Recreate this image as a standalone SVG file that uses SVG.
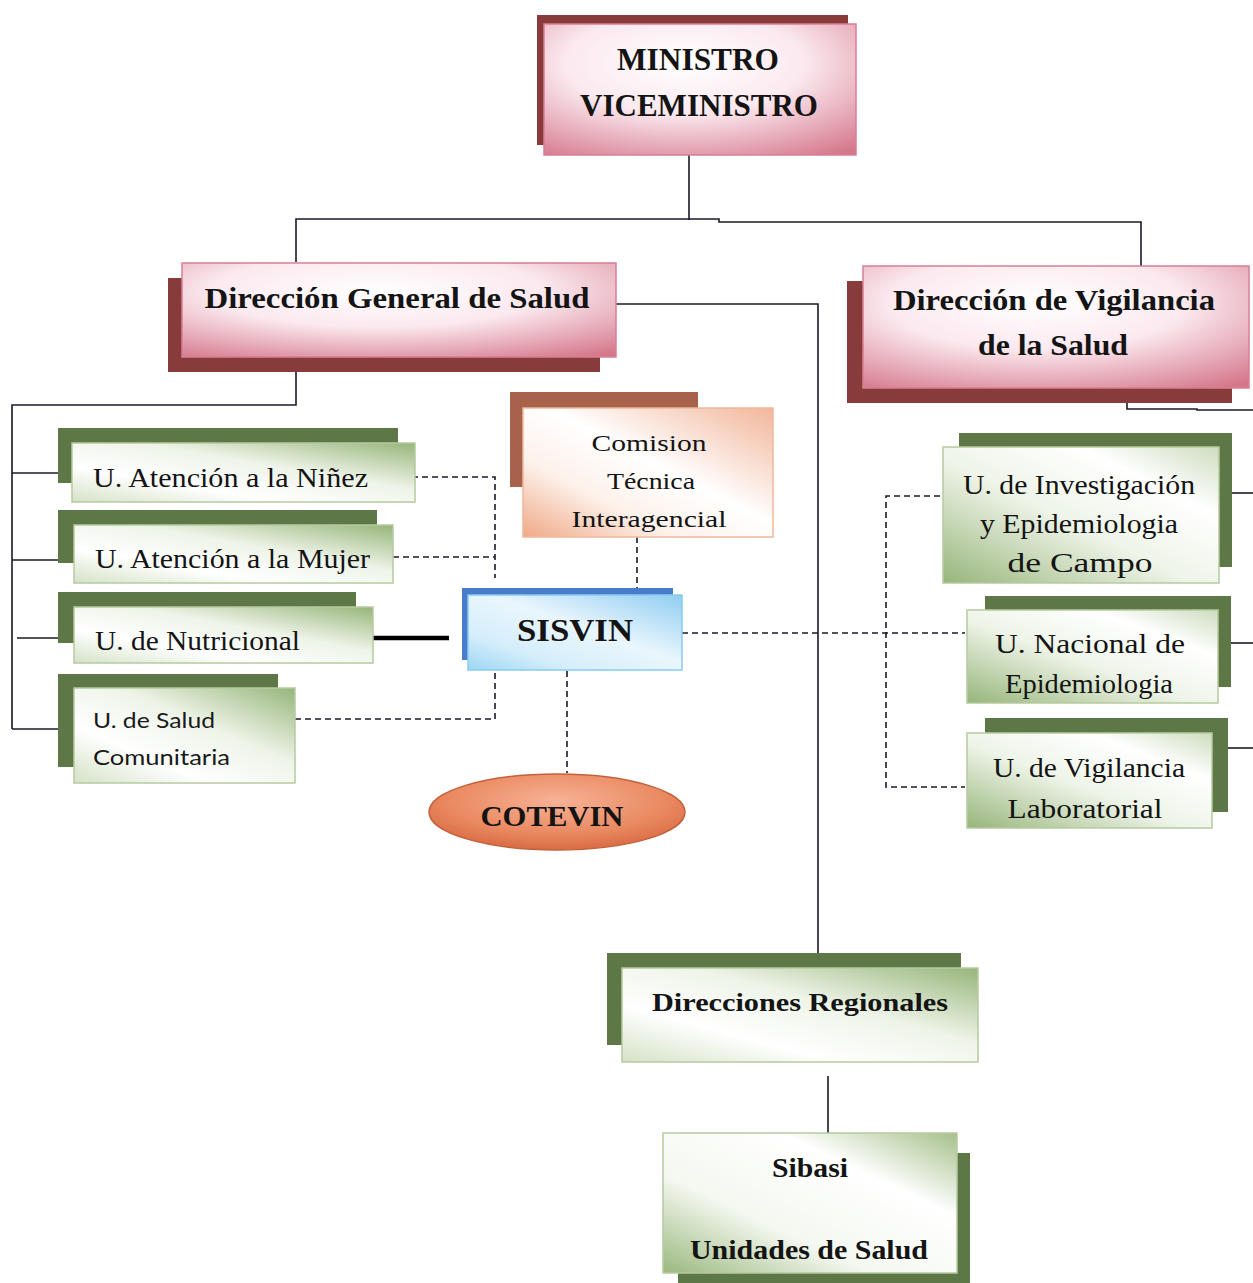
<svg xmlns="http://www.w3.org/2000/svg" width="1253" height="1283" viewBox="0 0 1253 1283">
<style>
.bg{fill:#ffffff}
.t{font-family:"Liberation Serif","DejaVu Serif",serif;fill:#141414}
.b{font-weight:bold}
.sans{font-family:"Lato","Open Sans","Liberation Sans",sans-serif;fill:#1a1a1a}
.line{stroke:#1a1a2a;stroke-width:1.6;fill:none}
.dash{stroke:#1a1a2a;stroke-width:1.6;fill:none;stroke-dasharray:6 4}
.thick{stroke:#000;stroke-width:4.5;fill:none}
.mshadow{fill:#873b3b}
.gshadow{fill:#5d7846}
.pink{fill:url(#gPink);stroke:#d97f92;stroke-width:1.5}
.green{stroke:#b6caa0;stroke-width:1.5}
</style>
<defs>
<radialGradient id="gPink" cx="0.45" cy="0.3" r="0.85">
<stop offset="0" stop-color="#ffffff"/>
<stop offset="0.45" stop-color="#fbe9ef"/>
<stop offset="1" stop-color="#d5778b"/>
</radialGradient>
<linearGradient id="gGreenL" x1="1" y1="0" x2="0" y2="1">
<stop offset="0" stop-color="#97b57a"/>
<stop offset="0.4" stop-color="#eef4e8"/>
<stop offset="0.7" stop-color="#ffffff"/>
<stop offset="1" stop-color="#d4e2c6"/>
</linearGradient>
<linearGradient id="gGreenR" x1="0" y1="1" x2="1" y2="0">
<stop offset="0" stop-color="#97b57a"/>
<stop offset="0.45" stop-color="#eef4e8"/>
<stop offset="0.75" stop-color="#ffffff"/>
<stop offset="1" stop-color="#cddcbe"/>
</linearGradient>
<linearGradient id="gGreenS" x1="0" y1="1" x2="1" y2="0">
<stop offset="0" stop-color="#9ab87e"/>
<stop offset="0.35" stop-color="#f4f8f0"/>
<stop offset="0.7" stop-color="#ffffff"/>
<stop offset="1" stop-color="#a5c08a"/>
</linearGradient>
<linearGradient id="gPeach" x1="1" y1="0" x2="0" y2="1">
<stop offset="0" stop-color="#f2b69a"/>
<stop offset="0.45" stop-color="#ffffff"/>
<stop offset="0.7" stop-color="#fdf1ea"/>
<stop offset="1" stop-color="#efa886"/>
</linearGradient>
<linearGradient id="gBlue" x1="1" y1="0" x2="0" y2="1">
<stop offset="0" stop-color="#8fcdf2"/>
<stop offset="0.45" stop-color="#eaf6fd"/>
<stop offset="0.75" stop-color="#d5eefb"/>
<stop offset="1" stop-color="#9dd6f5"/>
</linearGradient>
<radialGradient id="gOrange" cx="0.5" cy="0.35" r="0.7">
<stop offset="0" stop-color="#f7b296"/>
<stop offset="0.6" stop-color="#ea8a62"/>
<stop offset="1" stop-color="#d5653d"/>
</radialGradient>
</defs>
<rect class="bg" x="0" y="0" width="1253" height="1283"/>

<g id="connectors">
<!-- ministro to direcciones -->
<path class="line" d="M689,155 V220"/>
<path class="line" d="M296,262 V219 H719 V222 H1141 V268"/>
<!-- DG to regionales -->
<path class="line" d="M616,304 H818 V955"/>
<!-- DG to left units -->
<path class="line" d="M296,357 V405 H12 V729"/>
<path class="line" d="M12,473 H72"/>
<path class="line" d="M12,560 H74"/>
<path class="line" d="M17,638 H74"/>
<path class="line" d="M12,729 H74"/>
<!-- DV to right units -->
<path class="line" d="M1127,375 V409 H1197 V410 H1253"/>
<path class="line" d="M1228,493 H1253"/>
<path class="line" d="M1228,643 H1253"/>
<path class="line" d="M1228,748 H1253"/>
<!-- dashed to SISVIN -->
<path class="dash" d="M392,477 H495 V578"/>
<path class="dash" d="M383,557 H495"/>
<path class="dash" d="M295,719 H495 V670"/>
<path class="thick" d="M372,638 H449"/>
<path class="dash" d="M637,537 V598"/>
<path class="dash" d="M567,671 V773"/>
<path class="dash" d="M682,633 H965"/>
<path class="dash" d="M970,496 H886 V787 H965"/>
<!-- regionales to sibasi -->
<path class="line" d="M828,1076 V1135"/>
</g>

<g id="ministro">
<rect class="mshadow" x="537" y="15" width="311" height="130"/>
<rect class="pink" x="544" y="24" width="312" height="131"/>
<text class="t b" x="698" y="70" font-size="32" text-anchor="middle" textLength="162" lengthAdjust="spacingAndGlyphs">MINISTRO</text>
<text class="t b" x="699" y="116" font-size="32" text-anchor="middle" textLength="238" lengthAdjust="spacingAndGlyphs">VICEMINISTRO</text>
</g>

<g id="dir-general">
<rect class="mshadow" x="168" y="278" width="432" height="94"/>
<rect class="pink" x="182" y="263" width="434" height="94"/>
<text class="t b" x="397" y="308" font-size="30" text-anchor="middle" textLength="385" lengthAdjust="spacingAndGlyphs">Dirección General de Salud</text>
</g>

<g id="dir-vigilancia">
<rect class="mshadow" x="847" y="281" width="385" height="122"/>
<rect class="pink" x="863" y="266" width="386" height="122"/>
<text class="t b" x="1054" y="310" font-size="30" text-anchor="middle" textLength="322" lengthAdjust="spacingAndGlyphs">Dirección de Vigilancia</text>
<text class="t b" x="1053" y="355" font-size="30" text-anchor="middle" textLength="150" lengthAdjust="spacingAndGlyphs">de la Salud</text>
</g>

<g id="u-ninez">
<rect class="gshadow" x="58" y="428" width="340" height="55"/>
<rect class="green" fill="url(#gGreenL)" x="72" y="443" width="343" height="59"/>
<text class="t" x="93" y="487" font-size="27" textLength="275" lengthAdjust="spacingAndGlyphs">U. Atención a la Niñez</text>
</g>

<g id="u-mujer">
<rect class="gshadow" x="58" y="510" width="319" height="53"/>
<rect class="green" fill="url(#gGreenL)" x="74" y="525" width="319" height="58"/>
<text class="t" x="95" y="568" font-size="27" textLength="275" lengthAdjust="spacingAndGlyphs">U. Atención a la Mujer</text>
</g>

<g id="u-nutricional">
<rect class="gshadow" x="58" y="592" width="298" height="51"/>
<rect class="green" fill="url(#gGreenL)" x="74" y="607" width="299" height="56"/>
<text class="t" x="95" y="650" font-size="27" textLength="205" lengthAdjust="spacingAndGlyphs">U. de Nutricional</text>
</g>

<g id="u-salud-comunitaria">
<rect class="gshadow" x="58" y="674" width="220" height="93"/>
<rect class="green" fill="url(#gGreenL)" x="74" y="688" width="221" height="95"/>
<text class="sans" x="93" y="728" font-size="22" textLength="122" lengthAdjust="spacingAndGlyphs">U. de Salud</text>
<text class="sans" x="93" y="765" font-size="22" textLength="137" lengthAdjust="spacingAndGlyphs">Comunitaria</text>
</g>

<g id="comision">
<rect fill="#a8614a" x="510" y="392" width="188" height="95"/>
<rect fill="url(#gPeach)" stroke="#f0b89c" stroke-width="1.5" x="523" y="408" width="250" height="129"/>
<text class="t" x="649" y="451" font-size="24" text-anchor="middle" textLength="115" lengthAdjust="spacingAndGlyphs">Comision</text>
<text class="t" x="651" y="489" font-size="24" text-anchor="middle" textLength="88" lengthAdjust="spacingAndGlyphs">Técnica</text>
<text class="t" x="649" y="527" font-size="24" text-anchor="middle" textLength="155" lengthAdjust="spacingAndGlyphs">Interagencial</text>
</g>

<g id="sisvin">
<rect fill="#4a7ccc" x="462" y="588" width="211" height="72"/>
<rect fill="url(#gBlue)" stroke="#86ccf1" stroke-width="1.5" x="468" y="595" width="214" height="75"/>
<text class="t b" x="575" y="641" font-size="32" text-anchor="middle" textLength="116" lengthAdjust="spacingAndGlyphs">SISVIN</text>
</g>

<g id="cotevin">
<ellipse fill="url(#gOrange)" stroke="#c4603a" stroke-width="1.5" cx="557" cy="812" rx="128" ry="38"/>
<text class="t b" x="552" y="826" font-size="30" text-anchor="middle" textLength="143" lengthAdjust="spacingAndGlyphs">COTEVIN</text>
</g>

<g id="u-investigacion">
<rect class="gshadow" x="959" y="433" width="273" height="134"/>
<rect class="green" fill="url(#gGreenR)" x="943" y="447" width="276" height="136"/>
<text class="t" x="1079" y="494" font-size="27" text-anchor="middle" textLength="232" lengthAdjust="spacingAndGlyphs">U. de Investigación</text>
<text class="t" x="1079" y="533" font-size="27" text-anchor="middle" textLength="198" lengthAdjust="spacingAndGlyphs">y Epidemiologia</text>
<text class="t" x="1080" y="572" font-size="27" text-anchor="middle" textLength="145" lengthAdjust="spacingAndGlyphs">de Campo</text>
</g>

<g id="u-nacional">
<rect class="gshadow" x="985" y="596" width="246" height="91"/>
<rect class="green" fill="url(#gGreenR)" x="967" y="610" width="251" height="93"/>
<text class="t" x="1090" y="653" font-size="27" text-anchor="middle" textLength="190" lengthAdjust="spacingAndGlyphs">U.  Nacional de</text>
<text class="t" x="1089" y="693" font-size="27" text-anchor="middle" textLength="168" lengthAdjust="spacingAndGlyphs">Epidemiologia</text>
</g>

<g id="u-laboratorial">
<rect class="gshadow" x="985" y="718" width="243" height="94"/>
<rect class="green" fill="url(#gGreenR)" x="967" y="733" width="245" height="95"/>
<text class="t" x="1089" y="777" font-size="27" text-anchor="middle" textLength="192" lengthAdjust="spacingAndGlyphs">U. de Vigilancia</text>
<text class="t" x="1085" y="818" font-size="27" text-anchor="middle" textLength="155" lengthAdjust="spacingAndGlyphs">Laboratorial</text>
</g>

<g id="regionales">
<rect class="gshadow" x="607" y="953" width="354" height="92"/>
<rect class="green" fill="url(#gGreenL)" x="622" y="968" width="356" height="94"/>
<text class="t b" x="800" y="1011" font-size="26" text-anchor="middle" textLength="296" lengthAdjust="spacingAndGlyphs">Direcciones Regionales</text>
</g>

<g id="sibasi">
<rect class="gshadow" x="678" y="1153" width="292" height="130"/>
<rect class="green" fill="url(#gGreenS)" x="663" y="1133" width="294" height="140"/>
<text class="t b" x="810" y="1177" font-size="28" text-anchor="middle" textLength="76" lengthAdjust="spacingAndGlyphs">Sibasi</text>
<text class="t b" x="809" y="1259" font-size="28" text-anchor="middle" textLength="238" lengthAdjust="spacingAndGlyphs">Unidades de Salud</text>
</g>
</svg>
